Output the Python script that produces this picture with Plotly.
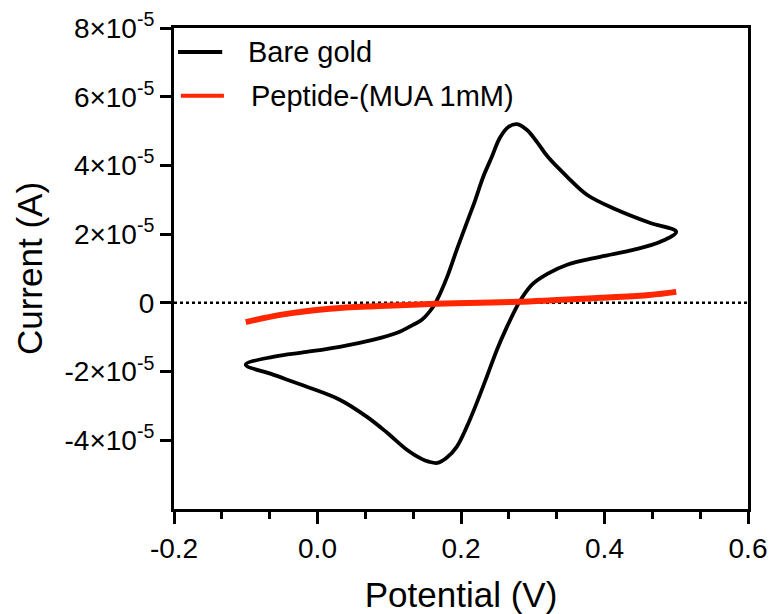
import plotly.graph_objects as go

# Cyclic voltammogram, bare gold electrode (closed loop: -0.1 V -> 0.5 V -> -0.1 V)
bare_potential = [-0.100, -0.062, -0.015, 0.031, 0.077, 0.111, 0.133, 0.145, 0.161,
                  0.167, 0.180, 0.194, 0.208, 0.220, 0.231, 0.243, 0.254, 0.266,
                  0.278, 0.292, 0.306, 0.321, 0.348, 0.376, 0.417, 0.463, 0.500,
                  0.477, 0.440, 0.394, 0.348, 0.321, 0.300, 0.285, 0.278, 0.264,
                  0.250, 0.236, 0.222, 0.208, 0.194, 0.180, 0.167, 0.155, 0.145,
                  0.125, 0.097, 0.069, 0.031, -0.015, -0.062, -0.100]
bare_current = [-1.80e-5, -1.57e-5, -1.43e-5, -1.28e-5, -1.08e-5, -0.87e-5, -0.64e-5,
                -0.50e-5, -0.12e-5, 0.10e-5, 0.72e-5, 1.54e-5, 2.33e-5, 3.00e-5,
                3.67e-5, 4.25e-5, 4.80e-5, 5.12e-5, 5.20e-5, 5.03e-5, 4.68e-5,
                4.25e-5, 3.67e-5, 3.14e-5, 2.71e-5, 2.33e-5, 2.07e-5,
                1.77e-5, 1.54e-5, 1.34e-5, 1.11e-5, 0.85e-5, 0.55e-5, 0.15e-5,
                -0.10e-5, -0.70e-5, -1.37e-5, -2.15e-5, -2.91e-5, -3.61e-5,
                -4.19e-5, -4.51e-5, -4.66e-5, -4.62e-5, -4.54e-5, -4.28e-5,
                -3.78e-5, -3.32e-5, -2.82e-5, -2.44e-5, -2.09e-5, -1.80e-5]

# Peptide-modified electrode (MUA 1 mM)
peptide_potential = [-0.100, -0.052, 0.017, 0.087, 0.157, 0.278, 0.394, 0.463, 0.500]
peptide_current = [-0.56e-5, -0.35e-5, -0.17e-5, -0.09e-5, -0.03e-5, 0.03e-5,
                   0.15e-5, 0.23e-5, 0.32e-5]

series_names = ["Bare gold", "Peptide-(MUA 1mM)"]
series_colors = ["#000000", "#ff2600"]

y_tick_values = [-4e-5, -2e-5, 0, 2e-5, 4e-5, 6e-5, 8e-5]
y_tick_labels = ["-4×10<sup>-5</sup>", "-2×10<sup>-5</sup>", "0", "2×10<sup>-5</sup>",
                 "4×10<sup>-5</sup>", "6×10<sup>-5</sup>", "8×10<sup>-5</sup>"]
x_tick_values = [-0.2, 0.0, 0.2, 0.4, 0.6]
x_tick_labels = ["-0.2", "0.0", "0.2", "0.4", "0.6"]

FONT = "Liberation Sans, Arial, Helvetica, sans-serif"

fig = go.Figure()
fig.add_trace(go.Scatter(x=bare_potential, y=bare_current, mode="lines",
                         name=series_names[0], showlegend=False,
                         line=dict(color=series_colors[0], width=3.8,
                                   shape="spline", smoothing=1.0)))
fig.add_trace(go.Scatter(x=peptide_potential, y=peptide_current, mode="lines",
                         name=series_names[1], showlegend=False,
                         line=dict(color=series_colors[1], width=6,
                                   shape="spline", smoothing=1.0)))

# dotted zero-current baseline
fig.add_shape(type="line", xref="paper", yref="y", x0=0, x1=1, y0=0, y1=0,
              line=dict(color="black", width=2.5, dash="dot"), layer="below")

# legend drawn as line samples with labels
legend_rows = [(0.950, 0.007, 0.084, 0.125), (0.859, 0.012, 0.087, 0.131)]
for (ly, lx0, lx1, tx), name, color in zip(legend_rows, series_names, series_colors):
    fig.add_shape(type="line", xref="paper", yref="paper", x0=lx0, x1=lx1, y0=ly, y1=ly,
                  line=dict(color=color, width=4))
    fig.add_annotation(xref="paper", yref="paper", x=tx, y=ly, text=name,
                       showarrow=False, xanchor="left", yanchor="middle",
                       font=dict(family=FONT, size=29, color="black"))

fig.update_layout(
    width=771, height=614,
    margin=dict(l=174, r=23, t=28, b=105),
    paper_bgcolor="white", plot_bgcolor="white",
    font=dict(family=FONT, color="black"),
    xaxis=dict(range=[-0.2, 0.6], tickvals=x_tick_values, ticktext=x_tick_labels,
               automargin=False,
               showgrid=False, zeroline=False, showline=True, mirror=True,
               linecolor="black", linewidth=3, ticks="outside", ticklen=12,
               tickwidth=3, tickcolor="black", tickfont=dict(size=28),
               minor=dict(dtick=0.2 / 3, ticks="outside", ticklen=7, tickwidth=3,
                          tickcolor="black", showgrid=False),
               title=dict(text="Potential (V)", font=dict(size=35), standoff=22)),
    yaxis=dict(range=[-6e-5, 8e-5], tickvals=y_tick_values, ticktext=y_tick_labels,
               automargin=False,
               showgrid=False, zeroline=False, showline=True, mirror=True,
               linecolor="black", linewidth=3, ticks="outside", ticklen=11,
               tickwidth=3, tickcolor="black", tickfont=dict(size=28),
               title=dict(text="Current (A)", font=dict(size=35), standoff=12)),
)

fig.write_html("out.html")
